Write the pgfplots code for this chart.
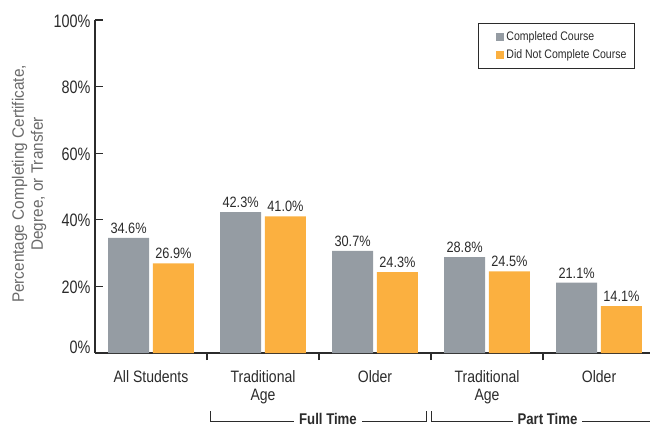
\documentclass[border=0pt]{standalone}
\usepackage{pgfplots}
\pgfplotsset{compat=1.18}
\usepackage{pgfplotstable}
\usepackage{fontspec}
\setmainfont{Liberation Sans}
\newfontfamily\condN{Liberation Sans}[FakeStretch=0.85]
\newfontfamily\condT{Liberation Sans}[FakeStretch=0.80]
\newfontfamily\condL{Liberation Sans}[FakeStretch=0.93]
\definecolor{barGray}{HTML}{959CA3}
\definecolor{barOrange}{HTML}{FBB040}
\definecolor{ink}{HTML}{2B2B2B}
\definecolor{labelGray}{HTML}{6A6A6A}

% completion rates by group (percent)
\pgfplotstableread{
x completed notcompleted
0 34.6 26.9
1 42.3 41.0
2 30.7 24.3
3 28.8 24.5
4 21.1 14.1
}\rates

\begin{document}
\begin{tikzpicture}[x=1pt,y=1pt]
\useasboundingbox (-95,-76) rectangle (555,353);
\begin{axis}[
  at={(0,0)}, anchor=south west,
  scale only axis, width=555pt, height=333pt,
  xmin=-0.5, xmax=4.455, ymin=0, ymax=100,
  clip=false,
  axis x line=bottom, axis y line=left,
  axis line style={-, draw=ink, line width=1.3pt},
  tick align=inside,
  ytick={20,40,...,100},
  extra y ticks={0},
  extra y tick style={yticklabel style={yshift=7pt}, major tick length=0pt},
  yticklabel={\pgfmathprintnumber{\tick}\%},
  /pgf/number format/assume math mode=true,
  yticklabel style={font=\condT\fontsize{18}{20}\selectfont, text=ink, xshift=-1pt, yshift=-1pt},
  major tick length=8pt,
  major y tick style={draw=ink, line width=1.2pt},
  xtick={0,...,4},
  xticklabels={All Students, Traditional\\Age, Older, Traditional\\Age, Older},
  xticklabel style={align=center, font=\condN\fontsize{16.5}{18}\selectfont, text=ink, yshift=-6pt},
  major x tick style={draw=none},
  minor xtick={0.5,1.5,2.5,3.5},
  minor tick length=7pt,
  minor x tick style={draw=ink, line width=1.2pt},
  ylabel={Percentage Completing Certificate,\\Degree, or Transfer},
  every axis y label/.style={at={(axis description cs:0,0.5075)}, xshift=-66pt,
    rotate=90, anchor=center, align=center,
    font=\condL\fontsize{16.5}{19}\selectfont, text=labelGray},
  ybar, bar width=0.366,
  nodes near coords={\pgfmathprintnumber[fixed,fixed zerofill,precision=1]{\pgfplotspointmeta}\%},
  every node near coord/.append style={font=\condN\fontsize{15}{16}\selectfont, text=ink, yshift=1pt},
  legend style={at={(rel axis cs:0.69,0.991)}, anchor=north west,
    draw=ink, line width=0.9pt, font=\condN\fontsize{12.4}{14}\selectfont,
    text=ink, inner xsep=6pt, inner ysep=6pt, row sep=4pt},
  legend cell align=left,
  legend image code/.code={\path (0pt,0pt); \path[#1] (12pt,-4pt) rectangle (20pt,4pt);},
]
\addplot[fill=barGray, draw=none, bar shift=-0.2] table[x=x, y=completed] {\rates};
\addplot[fill=barOrange, draw=none, bar shift=0.2] table[x=x, y=notcompleted] {\rates};
\legend{Completed Course, Did Not Complete Course}

% enrollment-status brackets under the categories
\draw[ink, line width=1pt] ([yshift=-58pt]axis cs:0.53,0) -- ([yshift=-68pt]axis cs:0.53,0)
  -- ([yshift=-68pt]axis cs:2.46,0) -- ([yshift=-58pt]axis cs:2.46,0);
\draw[ink, line width=1pt] ([yshift=-58pt]axis cs:2.50,0) -- ([yshift=-68pt]axis cs:2.50,0)
  -- ([yshift=-68pt]axis cs:4.455,0);
\node[fill=white, anchor=base, inner xsep=5pt, inner ysep=1pt, text=ink,
  font=\condN\bfseries\fontsize{15.5}{17}\selectfont] at ([yshift=-71.5pt]axis cs:1.58,0) {Full Time};
\node[fill=white, anchor=base, inner xsep=5pt, inner ysep=1pt, text=ink,
  font=\condN\bfseries\fontsize{15.5}{17}\selectfont] at ([yshift=-71.5pt]axis cs:3.54,0) {Part Time};
\end{axis}
\end{tikzpicture}
\end{document}
